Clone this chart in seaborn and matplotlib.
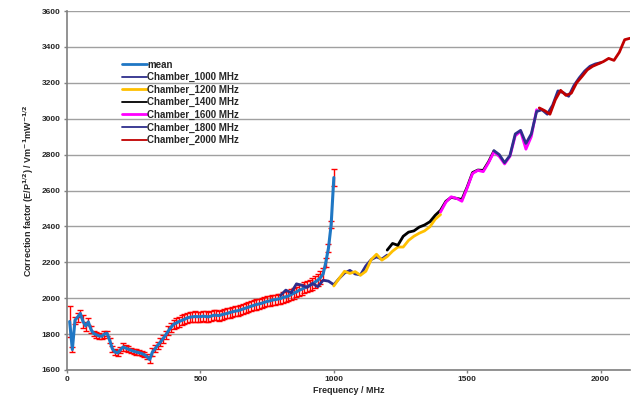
import numpy as np
import pandas as pd
import matplotlib
matplotlib.use("Agg")
import matplotlib.pyplot as plt
import seaborn as sns

# ---------------- data ----------------
mean_freq = list(range(10, 1001, 10))
mean_val = [1870, 1714, 1878, 1895, 1915, 1870, 1845, 1868, 1825, 1804,
            1796, 1790, 1788, 1800, 1805, 1765, 1718, 1700, 1695, 1712,
            1728, 1722, 1716, 1710, 1704, 1700, 1696, 1692, 1685, 1674,
            1658, 1700, 1718, 1738, 1755, 1775, 1795, 1818, 1838, 1855,
            1862, 1870, 1876, 1882, 1890, 1894, 1896, 1898, 1897, 1897,
            1900, 1898, 1896, 1900, 1905, 1905, 1903, 1908, 1912, 1915,
            1920, 1924, 1928, 1930, 1935, 1940, 1945, 1950, 1955, 1960,
            1965, 1968, 1972, 1977, 1982, 1985, 1990, 1992, 1995, 1998,
            2004, 2008, 2012, 2020, 2028, 2035, 2044, 2050, 2058, 2065,
            2072, 2080, 2090, 2100, 2115, 2135, 2200, 2280, 2410, 2672]
mean_err = [85, 15, 20, 25, 20, 35, 25, 20, 20, 15,
            15, 15, 15, 20, 15, 15, 15, 15, 15, 15,
            20, 15, 15, 15, 15, 15, 15, 15, 15, 15,
            20, 20, 20, 20, 22, 22, 25, 25, 25, 25,
            28, 28, 28, 28, 28, 28, 28, 28, 28, 28,
            28, 28, 28, 28, 28, 28, 28, 28, 28, 28,
            28, 28, 28, 28, 28, 28, 28, 28, 28, 28,
            28, 28, 28, 28, 28, 28, 28, 28, 28, 28,
            30, 30, 30, 30, 30, 30, 30, 30, 30, 30,
            32, 32, 34, 34, 35, 35, 25, 20, 20, 45]

ch1000_freq = list(range(800, 1201, 20))
ch1000_val = [2015, 2045, 2030, 2080, 2072, 2060, 2082, 2064, 2100, 2095,
              2075, 2110, 2140, 2155, 2135, 2130, 2180, 2215, 2230, 2218, 2240]

ch1200_freq = list(range(1000, 1401, 20))
ch1200_val = [2068, 2110, 2150, 2138, 2148, 2128, 2150, 2215, 2245, 2212,
              2232, 2262, 2285, 2285, 2322, 2345, 2362, 2375, 2398, 2440, 2466]

ch1400_freq = list(range(1200, 1601, 20))
ch1400_val = [2268, 2305, 2295, 2345, 2368, 2375, 2396, 2408, 2426, 2462,
              2490, 2540, 2562, 2556, 2550, 2620, 2700, 2714, 2712, 2760, 2820]

ch1600_freq = list(range(1400, 1761, 20))
ch1600_val = [2480, 2535, 2565, 2556, 2540, 2615, 2695, 2712, 2705, 2755,
              2815, 2790, 2748, 2790, 2905, 2930, 2830, 2900, 3050]

ch1800_freq = list(range(1600, 2001, 20))
ch1800_val = [2822, 2800, 2755, 2795, 2915, 2935, 2862, 2915, 3040, 3050,
              3025, 3075, 3155, 3145, 3125, 3185, 3228, 3265, 3292, 3305, 3312]

ch2000_freq = list(range(1770, 2111, 20))
ch2000_val = [3060, 3045, 3025, 3105, 3158, 3130, 3142, 3200, 3235, 3272,
              3292, 3305, 3318, 3336, 3325, 3370, 3440, 3448]

series_names = ["Chamber_1000 MHz", "Chamber_1200 MHz", "Chamber_1400 MHz",
                "Chamber_1600 MHz", "Chamber_1800 MHz", "Chamber_2000 MHz"]
series_colors = ["#2E2E8C", "#FFC000", "#000000", "#FF00FF", "#2E2E8C", "#C00000"]

x_ticks = [0, 500, 1000, 1500, 2000]
y_ticks = list(range(1600, 3601, 200))

# ---------------- plotting ----------------
sns.set_theme(style="white")
plt.rcParams["font.family"] = ["Liberation Sans", "DejaVu Sans"]
plt.rcParams["font.weight"] = "bold"

fig = plt.figure(figsize=(6.36, 4.07), dpi=100)
ax = fig.add_axes([67 / 636, 1 - 370 / 407, 563 / 636, 359 / 407])

ax.errorbar(mean_freq, mean_val, yerr=mean_err, fmt="none", ecolor="#FF0000",
            elinewidth=1.0, capsize=2, capthick=1.0, zorder=2)

mean_df = pd.DataFrame({"f": mean_freq, "v": mean_val})
sns.lineplot(data=mean_df, x="f", y="v", ax=ax, color="#1F77C4", linewidth=2.2,
             label="mean", zorder=3)

chambers = [(ch1000_freq, ch1000_val), (ch1200_freq, ch1200_val),
            (ch1400_freq, ch1400_val), (ch1600_freq, ch1600_val),
            (ch1800_freq, ch1800_val), (ch2000_freq, ch2000_val)]
for i, ((fq, vv), name, col) in enumerate(zip(chambers, series_names, series_colors)):
    df = pd.DataFrame({"f": fq, "v": vv})
    sns.lineplot(data=df, x="f", y="v", ax=ax, color=col, linewidth=2.0,
                 label=name, zorder=4 + i)

ax.set_xlim(0, 2110)
ax.set_ylim(1600, 3600)
ax.set_xticks(x_ticks)
ax.set_yticks(y_ticks)
ax.tick_params(axis="both", labelsize=6, length=2.5, width=1, color="#808080",
               pad=2, direction="out", bottom=True, left=True)
for lab in ax.get_xticklabels() + ax.get_yticklabels():
    lab.set_fontweight("bold")

ax.yaxis.grid(True, color="#A0A0A0", linewidth=1.0)
ax.xaxis.grid(False)
for s in ["top", "right"]:
    ax.spines[s].set_visible(False)
for s in ["left", "bottom"]:
    ax.spines[s].set_color("#808080")
    ax.spines[s].set_linewidth(1.2)

ax.set_xlabel("Frequency / MHz", fontsize=6.5, fontweight="bold", labelpad=2)
ax.set_ylabel("Correction factor (E/P$^{1/2}$) / Vm$^{-1}$mW$^{-1/2}$",
              fontsize=6.5, fontweight="bold", labelpad=4)

leg = ax.legend(loc="upper left", bbox_to_anchor=(0.097, 0.864), frameon=False,
                fontsize=7, handlelength=2.6, handletextpad=0.0,
                labelspacing=0.25, borderaxespad=0, borderpad=0)
for t in leg.get_texts():
    t.set_fontweight("bold")
for h, lw in zip(leg.get_lines(), [2.0, 1.3, 2.0, 1.3, 2.0, 1.3, 1.3]):
    h.set_linewidth(lw)

fig.savefig("out.png", dpi=100)
